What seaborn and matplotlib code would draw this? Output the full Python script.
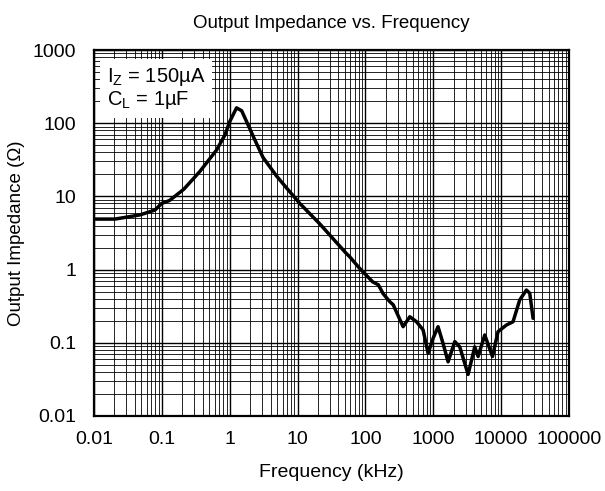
import matplotlib
matplotlib.use("Agg")
import matplotlib.pyplot as plt
import matplotlib.ticker as mticker
import seaborn as sns
import pandas as pd

sns.set_theme(style="white")
plt.rcParams['font.family'] = ['Liberation Sans', 'DejaVu Sans']
plt.rcParams['mathtext.fontset'] = 'custom'
plt.rcParams['mathtext.rm'] = 'Liberation Sans'
plt.rcParams['mathtext.it'] = 'Liberation Sans'
plt.rcParams['text.color'] = 'black'
plt.rcParams['axes.labelcolor'] = 'black'

# frequency (kHz) and impedance (ohm)
freq_khz = [0.01, 0.0204, 0.030, 0.048, 0.079, 0.099, 0.13, 0.21, 0.36, 0.64,
            0.85, 1.0, 1.26, 1.5, 1.98, 2.22, 3.1, 4.9, 6.9, 10.8, 21.3, 52,
            58.6, 82, 128, 155, 182, 229, 257, 359, 451, 566, 708, 838, 993,
            1175, 1393, 1652, 2073, 2455, 3258, 4083, 4573, 5730, 7447, 9000,
            11960, 14970, 18790, 23570, 26400, 29550]
impedance = [4.9, 4.9, 5.2, 5.6, 6.5, 8.0, 8.8, 12.5, 21.7, 43,
             69, 105, 162, 148, 84, 66, 34, 19, 13, 8.0, 4.2, 1.67,
             1.5, 1.04, 0.68, 0.62, 0.47, 0.364, 0.33, 0.166, 0.227, 0.194, 0.15, 0.072, 0.115,
             0.166, 0.098, 0.055, 0.104, 0.088, 0.037, 0.088, 0.065, 0.128, 0.065, 0.142,
             0.175, 0.194, 0.385, 0.526, 0.475, 0.216]

x_ticks = [0.01, 0.1, 1, 10, 100, 1000, 10000, 100000]
y_ticks = [0.01, 0.1, 1, 10, 100, 1000]

df = pd.DataFrame({'freq': freq_khz, 'z': impedance})

fig, ax = plt.subplots(figsize=(6.05, 4.91), dpi=100)
fig.subplots_adjust(left=94/605, right=569/605, top=1-50/491, bottom=1-416/491)

ax.set_xscale('log')
ax.set_yscale('log')
sns.lineplot(data=df, x='freq', y='z', ax=ax, color='black', linewidth=2.5,
             sort=False, zorder=3)

ax.set_xlim(0.01, 100000)
ax.set_ylim(0.01, 1000)
ax.set_xticks(x_ticks)
ax.set_yticks(y_ticks)
fmt = mticker.FuncFormatter(lambda v, p: '%g' % v)
ax.xaxis.set_major_formatter(fmt)
ax.yaxis.set_major_formatter(fmt)
ax.xaxis.set_minor_locator(mticker.LogLocator(base=10, subs=range(2, 10), numticks=20))
ax.yaxis.set_minor_locator(mticker.LogLocator(base=10, subs=range(2, 10), numticks=20))
ax.xaxis.set_minor_formatter(mticker.NullFormatter())
ax.yaxis.set_minor_formatter(mticker.NullFormatter())

ax.grid(True, which='major', color='black', linewidth=1.0)
ax.grid(True, which='minor', color='black', linewidth=0.6)
ax.tick_params(which='both', length=0, labelsize=14, colors='black')
ax.tick_params(axis='x', pad=11)
ax.tick_params(axis='y', pad=13)
for s in ax.spines.values():
    s.set_color('black')
    s.set_linewidth(1.6)

ax.set_title('Output Impedance vs. Frequency', fontsize=13.5, pad=16, color='black')
ax.set_xlabel('Frequency (kHz)', fontsize=14, labelpad=11)
ax.set_ylabel('Output Impedance (Ω)', fontsize=13.5, labelpad=5)

ax.text(0.0155, 300, 'I$_{Z}$ = 150µA\nC$_{L}$ = 1µF', fontsize=14.5,
        va='center', ha='left', linespacing=1.05, zorder=4, color='black',
        bbox=dict(facecolor='white', edgecolor='none', pad=5))

fig.savefig('out.png', dpi=100)
